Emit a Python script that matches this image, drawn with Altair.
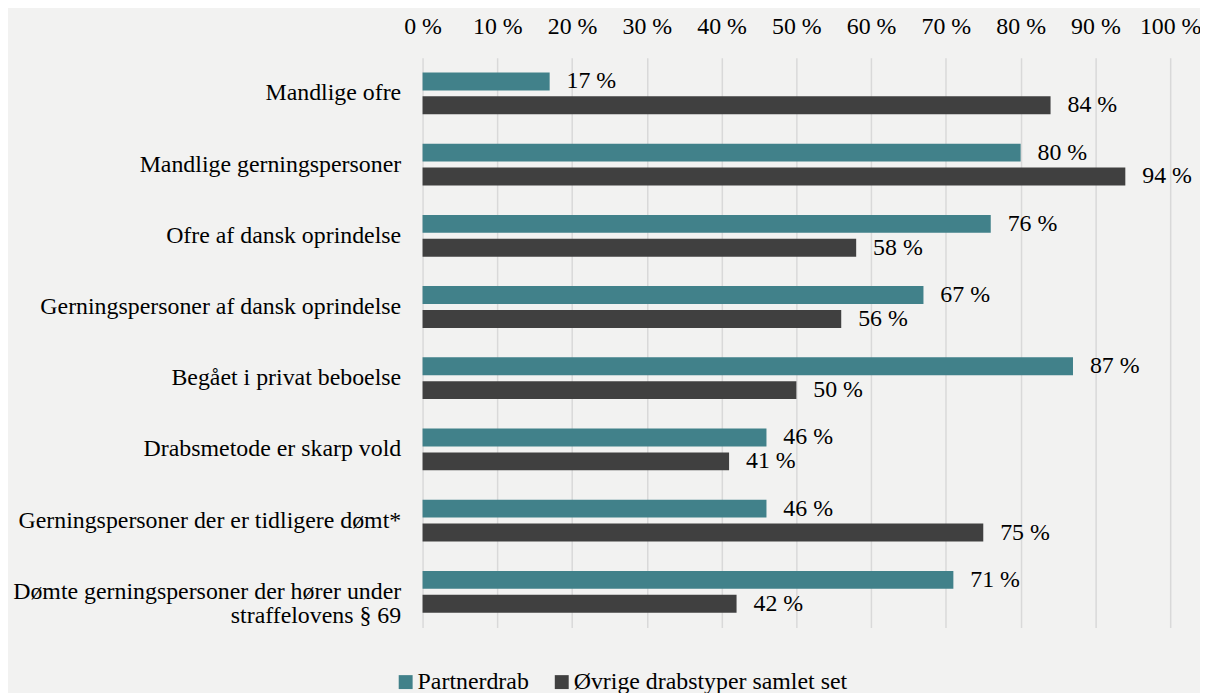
import altair as alt
import pandas as pd

categories = [
    "Mandlige ofre",
    "Mandlige gerningspersoner",
    "Ofre af dansk oprindelse",
    "Gerningspersoner af dansk oprindelse",
    "Begået i privat beboelse",
    "Drabsmetode er skarp vold",
    "Gerningspersoner der er tidligere dømt*",
    "Dømte gerningspersoner der hører under straffelovens § 69",
]
series = ["Partnerdrab", "Øvrige drabstyper samlet set"]
partnerdrab = [17, 80, 76, 67, 87, 46, 46, 71]
ovrige = [84, 94, 58, 56, 50, 41, 75, 42]
tick_values = [0, 10, 20, 30, 40, 50, 60, 70, 80, 90, 100]
colors = ["#41818a", "#404040"]

rows = []
for c, a, b in zip(categories, partnerdrab, ovrige):
    rows.append({"kategori": c, "serie": series[0], "andel": a})
    rows.append({"kategori": c, "serie": series[1], "andel": b})
df = pd.DataFrame(rows)

FONT = "'Liberation Serif', 'Times New Roman', Times, 'DejaVu Serif', serif"
FS = 24
long_label = categories[-1]
label_expr = (
    "datum.value == '" + long_label + "' ? "
    "['Dømte gerningspersoner der hører under', 'straffelovens § 69'] : datum.value"
)

y_enc = alt.Y(
    "kategori:N",
    sort=categories,
    scale=alt.Scale(paddingInner=0.413, paddingOuter=0.2065),
    axis=alt.Axis(
        title=None, ticks=False, domain=False, grid=False,
        labelFont=FONT, labelFontSize=FS, labelColor="#000000",
        labelPadding=22, labelExpr=label_expr, labelLineHeight=24,
        labelLimit=500,
    ),
)
yoff = alt.YOffset("serie:N", sort=series, scale=alt.Scale(paddingInner=0.25, paddingOuter=0))
x_enc = alt.X(
    "andel:Q",
    scale=alt.Scale(domain=[0, 100], nice=False),
    axis=alt.Axis(
        orient="top", title=None, values=tick_values, ticks=False, domain=False,
        grid=True, gridColor="#d9d9d9", gridWidth=1.5,
        labelFont=FONT, labelFontSize=FS, labelColor="#000000",
        labelPadding=19, labelExpr="datum.value + ' %'",
        labelOverlap=False, labelBound=False, labelFlush=False,
    ),
)

bars = alt.Chart(df).mark_bar().encode(
    x=x_enc,
    y=y_enc,
    yOffset=yoff,
    color=alt.Color(
        "serie:N",
        sort=series,
        scale=alt.Scale(domain=series, range=colors),
        legend=alt.Legend(
            title=None, orient="none", direction="horizontal",
            legendX=-29, legendY=616,
            symbolType="square", symbolSize=196, symbolStrokeWidth=0,
            labelFont=FONT, labelFontSize=FS, labelColor="#000000",
            labelOffset=0, columnPadding=21, labelLimit=500,
        ),
    ),
)

labels = alt.Chart(df).mark_text(
    align="left", baseline="middle", dx=17, font=FONT, fontSize=FS, color="#000000"
).encode(
    x=alt.X("andel:Q"),
    y=alt.Y("kategori:N", sort=categories),
    yOffset=alt.YOffset("serie:N", sort=series),
    text=alt.Text("label:N"),
).transform_calculate(label="datum.andel + ' %'")

chart = (
    alt.layer(bars, labels)
    .properties(
        width=752,
        height=573,
        background="#f2f2f1",
        padding={"left": 417, "top": 48, "right": 30, "bottom": 80},
        autosize=alt.AutoSizeParams(type="none"),
    )
    .configure_view(stroke=None)
)

chart.save("out.html", embed_options={"renderer": "svg", "actions": False})
